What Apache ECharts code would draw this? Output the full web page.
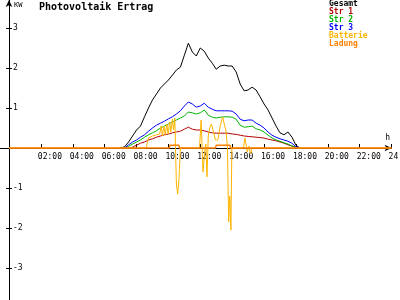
<!DOCTYPE html>
<html>
<head>
<meta charset="utf-8">
<script src="https://cdn.jsdelivr.net/npm/echarts@6/dist/echarts.min.js"></script>
<style>html,body{margin:0;padding:0;background:#fff}#c{width:400px;height:300px}</style>
</head>
<body>
<div id="c"></div>
<script>
// time grid (hours) for the PV string curves
const hours = [7.0,7.25,7.5,7.75,8.0,8.25,8.5,8.75,9.0,9.25,9.5,9.75,10.0,10.25,10.5,10.75,11.0,11.25,11.5,11.75,12.0,12.25,12.5,12.75,13.0,13.25,13.5,13.75,14.0,14.25,14.5,14.75,15.0,15.25,15.5,15.75,16.0,16.25,16.5,16.75,17.0,17.25,17.5,17.75,18.0,18.25];
const gesamt = [0,0.03,0.15,0.3,0.45,0.55,0.78,1.0,1.2,1.35,1.5,1.6,1.7,1.82,1.95,2.02,2.32,2.62,2.4,2.3,2.5,2.42,2.25,2.12,1.97,2.05,2.07,2.05,2.05,1.9,1.6,1.43,1.45,1.52,1.45,1.28,1.1,0.95,0.75,0.55,0.38,0.33,0.4,0.27,0.07,0];
const str1 = [0,0,0,0.02,0.07,0.12,0.15,0.2,0.23,0.27,0.3,0.33,0.35,0.38,0.4,0.42,0.47,0.52,0.47,0.45,0.45,0.43,0.4,0.38,0.37,0.37,0.37,0.37,0.35,0.34,0.32,0.3,0.29,0.28,0.27,0.26,0.25,0.22,0.2,0.18,0.15,0.12,0.08,0.05,0.02,0];
const str2 = [0,0,0.04,0.1,0.15,0.2,0.27,0.33,0.38,0.43,0.5,0.55,0.6,0.65,0.7,0.75,0.8,0.9,0.88,0.85,0.88,0.95,0.82,0.77,0.75,0.77,0.78,0.78,0.77,0.72,0.57,0.52,0.53,0.55,0.48,0.45,0.4,0.32,0.25,0.2,0.17,0.13,0.1,0.05,0.01,0];
const str3 = [0,0,0.08,0.15,0.2,0.27,0.33,0.42,0.5,0.57,0.62,0.67,0.73,0.78,0.85,0.93,1.05,1.15,1.1,1.02,1.05,1.12,1.02,0.97,0.93,0.93,0.93,0.93,0.92,0.85,0.72,0.68,0.7,0.7,0.62,0.57,0.5,0.4,0.32,0.27,0.23,0.2,0.17,0.12,0.03,0];
// battery flow (hours / kW)
const battHours = [0,8.6,8.75,9.0,9.25,9.45,9.55,9.62,9.72,9.8,9.9,9.98,10.08,10.15,10.25,10.32,10.4,10.46,10.5,10.58,10.66,10.75,11.95,12.05,12.12,12.17,12.3,12.35,12.42,12.5,12.6,12.7,12.8,12.95,13.1,13.25,13.4,13.5,13.6,13.7,13.78,13.85,13.92,13.98,14.7,14.8,14.88,14.95,15.05,15.15,15.25,24];
const batterie = [0,0,0.25,0.3,0.33,0.35,0.55,0.3,0.55,0.32,0.6,0.35,0.65,0.4,0.72,0.45,0.75,0.7,-0.9,-1.15,-0.8,0,0,0.7,0.7,-0.6,0,0.1,-0.72,0.3,0.52,0.6,0.45,0.2,0.2,0.55,0.78,0.6,0.45,0.05,-1.85,-1.2,-2.05,0,0,0.25,0.2,-0.1,0.05,-0.15,0,0];
const ladHours = [0,10.05,10.1,10.65,10.7,12.95,13.0,13.85,13.9,24];
const ladung = [0,0,0.07,0.07,0,0,0.07,0.07,0,0];
// ticks
const xTickValues = [2,4,6,8,10,12,14,16,18,20,22,24];
const xTickLabels = ['02:00','04:00','06:00','08:00','10:00','12:00','14:00','16:00','18:00','20:00','22:00','24:00'];
const yTickValues = [-3,-2,-1,0,1,2,3];
const yLabelValues = [3,2,1,-1,-2,-3];

const FONT = 'DejaVu Sans Mono';
const pairs = (xs, ys) => xs.map((x, i) => [x, ys[i]]);
const chart = echarts.init(document.getElementById('c'), null, {renderer: 'canvas'});
const names = ['Gesamt','Str 1','Str 2','Str 3','Batterie','Ladung'];
const colors = ['#000000','#b40000','#00b400','#0000ff','#ffb400','#ff8000'];

const ln = (name, data, color, w) => ({
  name, type: 'line', data, showSymbol: false, symbol: 'none',
  lineStyle: {color, width: w || 1}, itemStyle: {color}, animation: false
});

chart.setOption({
  animation: false,
  title: {text: 'Photovoltaik Ertrag', left: 39, top: 2, padding: 0,
    textStyle: {fontFamily: FONT, fontWeight: 'bold', fontSize: 10, color: '#000'}},
  legend: {
    orient: 'vertical', left: 324, top: 0, padding: 0, itemGap: 0,
    itemWidth: 0, itemHeight: 0, selectedMode: false,
    textStyle: {fontFamily: FONT, fontSize: 8, lineHeight: 8, fontWeight: 'bold'},
    data: names.map((n, i) => ({name: n, icon: 'none', textStyle: {color: colors[i]}}))
  },
  grid: {left: 0, right: 8.4, top: 0, height: 300, outerBoundsMode: 'none', containLabel: false},
  xAxis: {
    type: 'value', min: -0.565, max: 24, position: 'bottom', offset: -152,
    name: 'h', nameLocation: 'end', nameGap: -4,
    nameTextStyle: {fontFamily: FONT, fontSize: 8, color: '#000', align: 'center', verticalAlign: 'bottom', padding: [0,0,6,0]},
    axisLine: {onZero: false, symbol: ['none','arrow'], symbolSize: [5,7], lineStyle: {color: '#000', width: 1}},
    axisTick: {customValues: xTickValues, inside: true, length: 4, lineStyle: {color: '#000'}},
    axisLabel: {customValues: xTickValues.map(v => v - 0.19), align: 'left', margin: 5,
      fontFamily: FONT, fontSize: 8, color: '#000',
      formatter: v => xTickLabels[xTickValues.indexOf(Math.round(v))]},
    splitLine: {show: false}
  },
  yAxis: [{
    type: 'value', min: -3.8, max: 3.7, position: 'left', offset: -9,
    name: 'KW', nameLocation: 'end', nameGap: -2,
    nameTextStyle: {fontFamily: FONT, fontSize: 7, color: '#000', align: 'left', verticalAlign: 'top', padding: [0,0,0,5]},
    axisLine: {onZero: false, symbol: ['none','arrow'], symbolSize: [5,7], lineStyle: {color: '#000', width: 1}},
    axisTick: {customValues: yTickValues, length: 3, lineStyle: {color: '#000'}},
    axisLabel: {customValues: yLabelValues, inside: true, margin: 4, fontFamily: FONT, fontSize: 8, color: '#000'},
    splitLine: {show: false}
  }, {
    type: 'value', min: -3.8, max: 3.7, position: 'left', offset: -9,
    axisLine: {show: false, onZero: false},
    axisTick: {customValues: yTickValues, inside: true, length: 3, lineStyle: {color: '#000'}},
    axisLabel: {show: false},
    splitLine: {show: false}
  }],
  series: [
    ln('Gesamt', pairs(hours, gesamt), colors[0]),
    ln('Str 1', pairs(hours, str1), colors[1]),
    ln('Str 2', pairs(hours, str2), colors[2]),
    ln('Str 3', pairs(hours, str3), colors[3]),
    ln('Batterie', pairs(battHours, batterie), colors[4]),
    ln('Ladung', pairs(ladHours, ladung), colors[5], 1.5)
  ]
});
</script>
</body>
</html>
